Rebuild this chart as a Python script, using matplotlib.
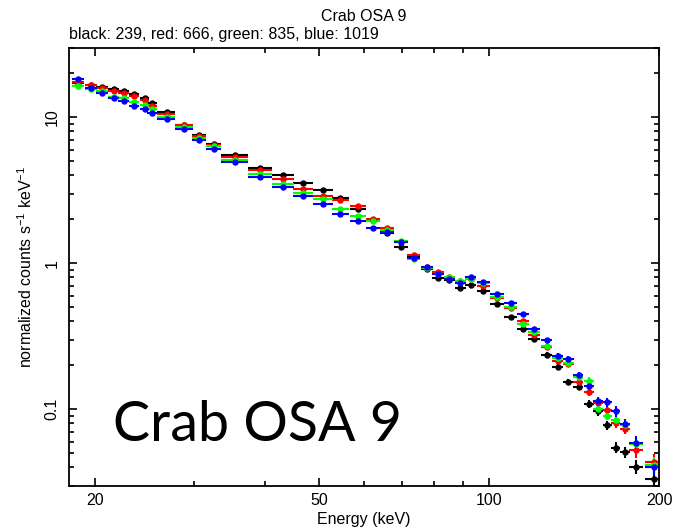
import numpy as np
import matplotlib
matplotlib.use('Agg')
import matplotlib.pyplot as plt
from matplotlib import ticker

# bin centres and half widths (keV), shared by the four spectra
energy = [18.7, 19.7, 20.6, 21.6, 22.5, 23.5, 24.5, 25.3, 26.8, 28.8, 30.6, 32.5,
          35.4, 39.3, 43.1, 46.8, 50.8, 54.5, 58.5, 62.2, 66.0, 69.8, 73.6, 77.5,
          81.2, 85.0, 88.9, 92.8, 97.6, 103.4, 109.1, 114.7, 120.3, 126.4, 132.3, 138.2,
          144.0, 150.2, 155.9, 161.8, 167.7, 173.9, 181.9, 195.6]
e_halfwidth = [0.46, 0.47, 0.48, 0.48, 0.49, 0.48, 0.47, 0.52, 0.99, 1.06, 0.87, 1.0,
               1.95, 2.0, 1.94, 1.91, 2.07, 1.94, 1.91, 1.78, 1.89, 1.99, 1.95, 1.9,
               1.99, 1.91, 2.0, 2.09, 2.59, 2.95, 2.9, 2.81, 2.95, 2.94, 2.97, 2.99,
               2.94, 2.94, 2.93, 2.97, 3.01, 3.55, 5.2, 6.79]

# normalized counts s^-1 keV^-1
black = [17.18, 16.51, 16.00, 15.58, 15.21, 14.49, 13.60, 12.47, 10.92, 8.86, 7.56, 6.60,
         5.49, 4.52, 4.01, 3.55, 3.19, 2.81, 2.35, 1.98, 1.61, 1.283, 1.122, 0.907,
         0.787, 0.769, 0.681, 0.710, 0.641, 0.526, 0.431, 0.355, 0.303, 0.237, 0.195, 0.154,
         0.141, 0.1087, 0.0966, 0.0775, 0.0547, 0.0510, 0.0403, 0.0335]
red = [17.31, 16.57, 15.83, 15.07, 14.55, 13.88, 13.09, 11.91, 10.59, 8.79, 7.48, 6.46,
       5.37, 4.34, 3.76, 3.23, 2.88, 2.70, 2.47, 1.995, 1.745, 1.388, 1.134, 0.936,
       0.865, 0.810, 0.751, 0.776, 0.699, 0.574, 0.494, 0.401, 0.322, 0.265, 0.215, 0.204,
       0.153, 0.1308, 0.110, 0.0989, 0.0810, 0.0737, 0.0522, 0.0438]
green = [16.39, 15.63, 15.02, 13.84, 13.45, 12.69, 12.08, 11.34, 10.05, 8.58, 7.18, 6.31,
         5.10, 4.09, 3.50, 3.05, 2.74, 2.34, 2.11, 1.96, 1.68, 1.421, 1.070, 0.929,
         0.845, 0.806, 0.760, 0.782, 0.733, 0.590, 0.499, 0.382, 0.340, 0.271, 0.223, 0.207,
         0.1665, 0.155, 0.1005, 0.0896, 0.0845, 0.0775, 0.0579, 0.0418]
blue = [18.30, 15.95, 14.74, 13.51, 12.89, 11.86, 11.34, 10.65, 9.69, 8.36, 7.03, 6.09,
        4.92, 3.92, 3.32, 2.91, 2.56, 2.19, 1.94, 1.75, 1.64, 1.39, 1.091, 0.936,
        0.848, 0.777, 0.737, 0.810, 0.748, 0.614, 0.537, 0.447, 0.352, 0.296, 0.232, 0.221,
        0.171, 0.145, 0.1144, 0.1115, 0.0974, 0.0793, 0.0588, 0.0400]

# fractional 1-sigma error per bin
rel_err = [0.01, 0.01, 0.01, 0.01, 0.01, 0.01, 0.01, 0.01, 0.01, 0.01, 0.01, 0.01,
           0.01, 0.01, 0.01, 0.01, 0.01, 0.01, 0.01, 0.01, 0.015, 0.015, 0.015, 0.015,
           0.015, 0.015, 0.015, 0.015, 0.025, 0.025, 0.025, 0.025, 0.025, 0.045, 0.045, 0.045,
           0.045, 0.065, 0.065, 0.065, 0.085, 0.085, 0.11, 0.12]

series = [('black', black), ('#ff0000', red), ('#00ff00', green), ('#0000ff', blue)]

plt.rcParams['font.family'] = ['Liberation Sans', 'DejaVu Sans']
plt.rcParams['mathtext.default'] = 'regular'

fig = plt.figure(figsize=(6.73, 5.28), dpi=100)
ax = fig.add_axes([0.1025, 0.0803, 0.8767, 0.8296])

for color, flux in series:
    flux = np.array(flux)
    ax.errorbar(energy, flux, xerr=e_halfwidth, yerr=flux * np.array(rel_err),
                fmt='o', color=color, ms=3.6, elinewidth=1.5, capsize=0)

ax.set_xscale('log')
ax.set_yscale('log')
ax.set_xlim(18, 200)
ax.set_ylim(0.03, 30)

ax.xaxis.set_major_locator(ticker.FixedLocator([20, 50, 100, 200]))
ax.xaxis.set_minor_locator(ticker.FixedLocator([30, 40, 60, 70, 80, 90]))
ax.xaxis.set_major_formatter(ticker.FormatStrFormatter('%g'))
ax.xaxis.set_minor_formatter(ticker.NullFormatter())
ax.yaxis.set_major_locator(ticker.FixedLocator([0.1, 1, 10]))
ax.yaxis.set_minor_locator(ticker.LogLocator(subs=np.arange(2, 10), numticks=20))
ax.yaxis.set_major_formatter(ticker.FormatStrFormatter('%g'))
ax.yaxis.set_minor_formatter(ticker.NullFormatter())

ax.tick_params(which='both', direction='in', top=True, right=True, width=1.2, labelsize=11.5)
ax.tick_params(which='major', length=6)
ax.tick_params(which='minor', length=3.5)
ax.tick_params(axis='x', pad=5)
ax.tick_params(axis='y', pad=7, labelrotation=90)
for lbl in ax.get_yticklabels():
    lbl.set_va('center')
for s in ax.spines.values():
    s.set_linewidth(1.3)

ax.set_xlabel('Energy (keV)', fontsize=11.5, labelpad=3)
ax.set_ylabel('normalized counts s$^{-1}$ keV$^{-1}$', fontsize=11.5, labelpad=7)

fig.text(364 / 673, 1 - 21 / 528, 'Crab OSA 9', ha='center', va='baseline', fontsize=11.5)
fig.text(69 / 673, 1 - 38.5 / 528, 'black: 239, red: 666, green: 835, blue: 1019',
         ha='left', va='baseline', fontsize=11.5)

fig.text(113 / 673, 1 - 441 / 528, 'Crab OSA 9', ha='left', va='baseline',
         fontsize=40, family='Lato')

fig.savefig('out.png', dpi=100)
